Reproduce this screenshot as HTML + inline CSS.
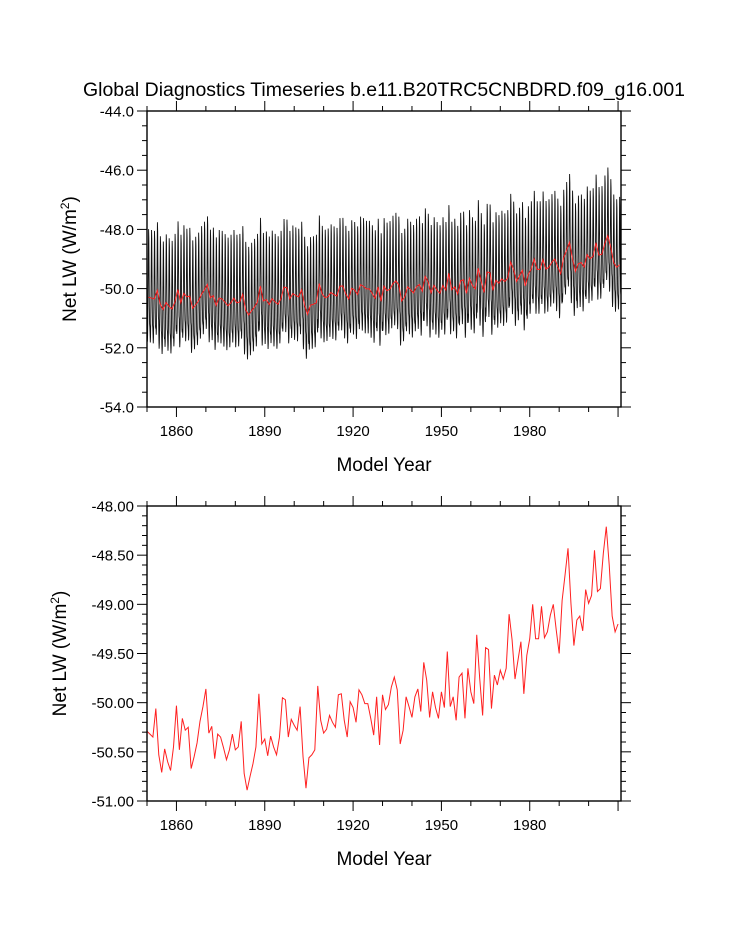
<!DOCTYPE html>
<html><head><meta charset="utf-8"><style>
body{margin:0;background:#fff;}
svg{display:block;font-family:"Liberation Sans",sans-serif;}
</style></head><body>
<svg id="chart" width="733" height="945" viewBox="0 0 733 945" xmlns="http://www.w3.org/2000/svg">
<text x="384" y="96" font-size="19" text-anchor="middle" textLength="602" lengthAdjust="spacingAndGlyphs">Global Diagnostics Timeseries b.e11.B20TRC5CNBDRD.f09_g16.001</text>
<g id="top"></g>
<g id="bot"></g>
</svg>
<script>
const annualMean = [
-50.29,-50.32,-50.35,-50.06,-50.53,-50.71,-50.47,-50.60,-50.69,-50.45,
-50.03,-50.48,-50.16,-50.28,-50.25,-50.67,-50.55,-50.41,-50.19,-50.04,
-49.86,-50.31,-50.24,-50.57,-50.32,-50.35,-50.46,-50.58,-50.48,-50.32,
-50.48,-50.45,-50.19,-50.72,-50.89,-50.75,-50.62,-50.45,-49.91,-50.42,
-50.37,-50.54,-50.34,-50.45,-50.53,-50.35,-49.95,-49.97,-50.35,-50.17,
-50.23,-50.28,-50.04,-50.55,-50.87,-50.56,-50.53,-50.48,-49.83,-50.18,
-50.31,-50.27,-50.13,-50.20,-50.25,-49.92,-49.91,-50.18,-50.35,-49.99,
-50.05,-50.20,-49.87,-49.92,-50.01,-50.01,-50.16,-50.33,-49.94,-50.43,
-49.92,-50.07,-50.02,-49.84,-49.74,-49.87,-50.42,-50.28,-49.94,-50.04,
-50.15,-49.94,-49.86,-50.09,-49.59,-49.77,-50.15,-49.89,-50.05,-50.16,
-49.89,-50.05,-49.48,-50.04,-49.94,-50.18,-49.74,-49.70,-50.16,-49.65,
-49.89,-50.01,-49.31,-49.75,-50.13,-49.44,-49.46,-50.06,-49.72,-49.82,
-49.67,-49.76,-49.65,-49.10,-49.36,-49.76,-49.57,-49.38,-49.91,-49.52,
-49.35,-49.00,-49.35,-49.35,-49.02,-49.34,-49.28,-49.11,-49.00,-49.26,
-49.50,-48.96,-48.70,-48.43,-48.99,-49.42,-49.16,-49.12,-49.27,-48.85,
-48.99,-48.91,-48.45,-48.87,-48.84,-48.48,-48.21,-48.60,-49.12,-49.28,-49.20];
const seasonalCycle = [-1.2,-1.5,-1.3,-0.6,0.3,1.4,2.3,2.0,0.8,-0.3,-0.9,-1.0];
const startYear = 1850;
const xTickYears = [1860,1890,1920,1950,1980];
const topYTicks = [-44.0,-46.0,-48.0,-50.0,-52.0,-54.0];
const botYTicks = [-48.00,-48.50,-49.00,-49.50,-50.00,-50.50,-51.00];

const NS="http://www.w3.org/2000/svg";
function mk(tag,attrs,parent){const e=document.createElementNS(NS,tag);for(const k in attrs)e.setAttribute(k,attrs[k]);parent.appendChild(e);return e;}
const X0=147,X1=621,YR0=1850,YR1=2011;
function xs(yr){return X0+(yr-YR0)/(YR1-YR0)*(X1-X0);}

function panel(g,top,bottom,ymin,ymax,major,minor,ticks,dec){
  const ys=v=>bottom-(v-ymin)/(ymax-ymin)*(bottom-top);
  for(let y=1850;y<=2010;y+=10){
    const big=(y-1860)%30===0, L=big?10:5, x=xs(y);
    let t=mk('line',{x1:x,x2:x,y1:bottom,y2:bottom+L,stroke:'#000','stroke-width':1},g);
    
    
    t=mk('line',{x1:x,x2:x,y1:top,y2:top-L,stroke:'#000','stroke-width':1},g);
    
    
  }
  xTickYears.forEach(y=>{
    const t=mk('text',{x:xs(y),y:bottom+29,'font-size':15,'text-anchor':'middle'},g);
    t.textContent=y;
    
    
  });
  const n=Math.round((ymax-ymin)/minor);
  for(let i=0;i<=n;i++){
    const v=ymin+i*minor, y=ys(v);
    const big=Math.abs(Math.round(v/major)*major-v)<1e-6, L=big?10:5;
    let t=mk('line',{x1:X0,x2:X0-L,y1:y,y2:y,stroke:'#000','stroke-width':1},g);
    
    
    t=mk('line',{x1:X1,x2:X1+L,y1:y,y2:y,stroke:'#000','stroke-width':1},g);
    
    
  }
  ticks.forEach(v=>{
    const t=mk('text',{x:X0-13,y:ys(v)+5.5,'font-size':15,'text-anchor':'end'},g);
    t.textContent=v.toFixed(dec);
    
    
  });
  return ys;
}
function frame(g,top,bottom){
  const r=mk('rect',{x:X0,y:top,width:X1-X0,height:bottom-top,fill:'none',stroke:'#000','stroke-width':1.4},g);
  
  
}
function labels(g,top,bottom,tx){
  const a=mk('text',{x:384,y:bottom+64,'font-size':19,'text-anchor':'middle'},g);
  a.textContent='Model Year';
  
  
  const c=(top+bottom)/2;
  const b=mk('text',{x:tx,y:c,'font-size':19,'text-anchor':'middle',transform:`rotate(-90 ${tx} ${c})`},g);
  b.innerHTML='Net LW (W/m<tspan font-size="12" dy="-7">2</tspan><tspan dy="7">)</tspan>';
  
  
}

const gt=document.getElementById('top');
const yt=panel(gt,111,407,-54,-44,2,0.5,topYTicks,1);
let pts=[];
annualMean.forEach((m,i)=>{seasonalCycle.forEach((s,k)=>{pts.push(xs(startYear+i+(k+0.5)/12).toFixed(2)+','+yt(m+s).toFixed(2));});});
const monthly=mk('polyline',{points:pts.join(' '),fill:'none',stroke:'#111','stroke-width':0.9},gt);


const redTop=mk('polyline',{points:annualMean.map((m,i)=>xs(startYear+i+0.5).toFixed(2)+','+yt(m).toFixed(2)).join(' '),fill:'none',stroke:'#ff2020','stroke-width':1},gt);


frame(gt,111,407);
labels(gt,111,407,76);

const gb=document.getElementById('bot');
const yb=panel(gb,506,801,-51,-48,0.5,0.1,botYTicks,2);
const redBot=mk('polyline',{points:annualMean.map((m,i)=>xs(startYear+i).toFixed(2)+','+yb(m).toFixed(2)).join(' '),fill:'none',stroke:'#ff2020','stroke-width':1},gb);


frame(gb,506,801);
labels(gb,506,801,66);
</script>
</body></html>
